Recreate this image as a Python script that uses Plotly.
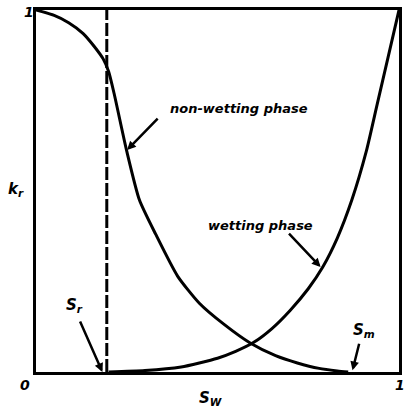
import plotly.graph_objects as go

# ── Data ─────────────────────────────────────────────────────────────────────
S_R = 0.195   # residual wetting saturation (dashed line)

sw_nw = [0.0, 0.05, 0.09, 0.13, 0.16, 0.185, 0.2, 0.215, 0.25, 0.285, 0.33,
         0.39, 0.45, 0.52, 0.59, 0.66, 0.72, 0.78, 0.83, 0.86]
kr_nw = [1.0, 0.985, 0.965, 0.935, 0.9, 0.865, 0.83, 0.77, 0.61, 0.475, 0.38,
         0.265, 0.19, 0.13, 0.08, 0.045, 0.025, 0.01, 0.003, 0.0]

sw_w = [0.2, 0.3, 0.4, 0.45, 0.5, 0.55, 0.6, 0.65, 0.7, 0.75, 0.79, 0.83,
        0.87, 0.91, 0.94, 0.97, 1.0]
kr_w = [0.0, 0.004, 0.014, 0.025, 0.038, 0.057, 0.082, 0.12, 0.17, 0.23,
        0.29, 0.37, 0.475, 0.61, 0.74, 0.87, 1.0]

FONT = dict(family="DejaVu Sans", color="black", size=13, weight="bold", style="italic")
LW = 3

fig = go.Figure()
fig.add_trace(go.Scatter(x=sw_nw, y=kr_nw, mode="lines",
                         line=dict(color="black", width=LW, shape="spline", smoothing=0.6)))
fig.add_trace(go.Scatter(x=sw_w, y=kr_w, mode="lines",
                         line=dict(color="black", width=LW, shape="spline", smoothing=0.6)))
fig.add_trace(go.Scatter(x=[S_R, S_R], y=[0, 1], mode="lines",
                         line=dict(color="black", width=LW, dash="13px,3px")))

fig.update_layout(
    width=404, height=414,
    margin=dict(l=36, r=2, t=10, b=42),
    plot_bgcolor="white", paper_bgcolor="white",
    showlegend=False,
    xaxis=dict(range=[0, 1], showgrid=False, zeroline=False, showticklabels=False, ticks="",
               showline=True, mirror=True, linecolor="black", linewidth=LW),
    yaxis=dict(range=[0, 1], showgrid=False, zeroline=False, showticklabels=False, ticks="",
               showline=True, mirror=True, linecolor="black", linewidth=LW),
)

def txt(x, y, s, size=13):
    fig.add_annotation(x=x, y=y, xref="paper", yref="paper", text=s, showarrow=False,
                       xanchor="center", yanchor="middle", font=dict(FONT, size=size))

def arrow(x, y, ax, ay):
    fig.add_annotation(x=x, y=y, ax=ax, ay=ay, xref="paper", yref="paper",
                       axref="pixel", ayref="pixel", text="", showarrow=True,
                       arrowhead=2, arrowsize=0.7, arrowwidth=2.5, arrowcolor="black")

# axis end labels
txt(-0.02, 0.995, "1", 14)
txt(-0.03, -0.036, "0", 14)
txt(1.003, -0.036, "1", 14)
txt(-0.055, 0.505, "k<sub>r</sub>", 15)
txt(0.48, -0.072, "S<sub>W</sub>", 15)

# curve labels (arrow tails given as pixel offsets from the head)
txt(0.56, 0.729, "non-wetting phase", 13)
arrow(0.251, 0.613, 32, -33)
txt(0.618, 0.406, "wetting phase", 13)
arrow(0.784, 0.29, -33, -35)
txt(0.107, 0.185, "S<sub>r</sub>", 15)
arrow(0.183, 0.0, -23, -52)
txt(0.904, 0.116, "S<sub>m</sub>", 15)
arrow(0.872, 0.005, 7, -28)

# drop the default page margin so the figure sits at the window's origin
fig.write_html("out.html", config={"displayModeBar": False},
               post_script="document.body.style.margin='0';document.body.style.overflow='hidden';")
